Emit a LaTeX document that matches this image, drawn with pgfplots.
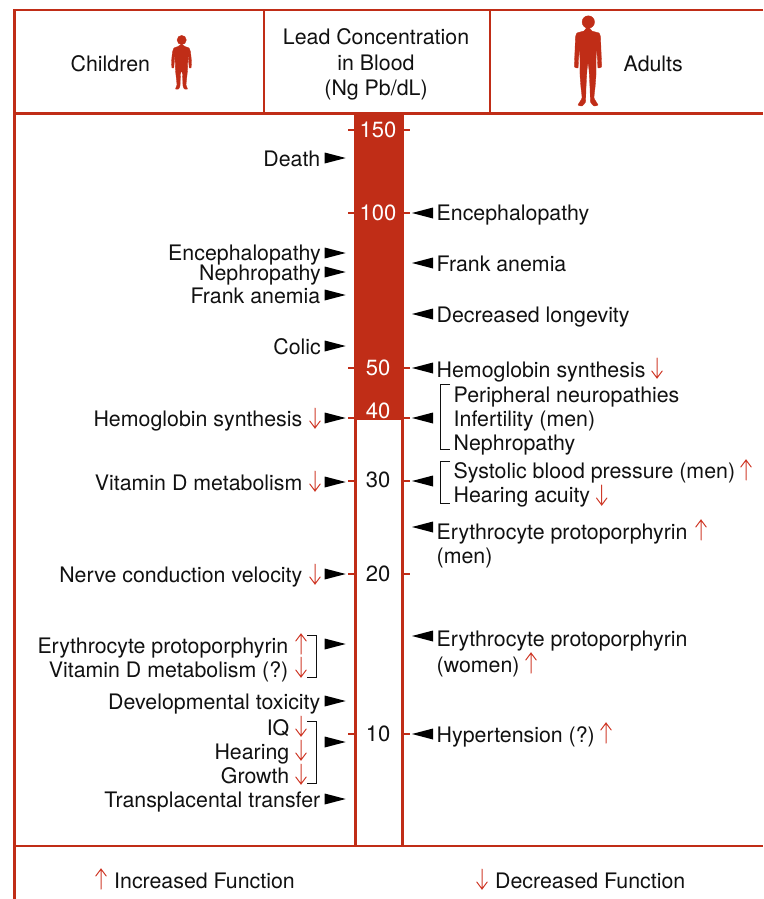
\documentclass[border=0pt]{standalone}
\usepackage{pgfplots}
\pgfplotsset{compat=1.18}
\usepackage{fontspec}
\setmainfont{TeX Gyre Heros}
\definecolor{leadred}{HTML}{C02D17}
\definecolor{arrowred}{HTML}{CF3B2A}
\definecolor{ink}{HTML}{111111}
\pgfdeclareplotmark{headR}{%
  \pgfpathmoveto{\pgfqpoint{-10.5pt}{-5.5pt}}\pgfpathlineto{\pgfqpoint{10.5pt}{0pt}}\pgfpathlineto{\pgfqpoint{-10.5pt}{5.5pt}}\pgfpathclose\pgfusepathqfill}
\pgfdeclareplotmark{headL}{%
  \pgfpathmoveto{\pgfqpoint{10.5pt}{-5.5pt}}\pgfpathlineto{\pgfqpoint{-10.5pt}{0pt}}\pgfpathlineto{\pgfqpoint{10.5pt}{5.5pt}}\pgfpathclose\pgfusepathqfill}
\pgfdeclareplotmark{thinUp}{%
  \pgfpathmoveto{\pgfqpoint{0pt}{-10pt}}\pgfpathlineto{\pgfqpoint{0pt}{10pt}}
  \pgfpathmoveto{\pgfqpoint{-5.2pt}{3pt}}\pgfpathlineto{\pgfqpoint{0pt}{10pt}}\pgfpathlineto{\pgfqpoint{5.2pt}{3pt}}\pgfusepathqstroke}
\pgfdeclareplotmark{thinDown}{%
  \pgfpathmoveto{\pgfqpoint{0pt}{10pt}}\pgfpathlineto{\pgfqpoint{0pt}{-10pt}}
  \pgfpathmoveto{\pgfqpoint{-5.2pt}{-3pt}}\pgfpathlineto{\pgfqpoint{0pt}{-10pt}}\pgfpathlineto{\pgfqpoint{5.2pt}{-3pt}}\pgfusepathqstroke}
\newcommand{\lab}[3]{\node[anchor=base west,inner sep=0pt,text=ink] at (axis cs:#1,#2) {#3};}
\newcommand{\rlab}[3]{\node[anchor=base east,inner sep=0pt,text=ink] at (axis cs:#1,#2) {#3};}
\newcommand{\clab}[3]{\node[anchor=base,inner sep=0pt,text=ink,font=\fontsize{22}{25}\selectfont] at (axis cs:#1,#2) {#3};}
\newcommand{\hlab}[3]{\node[anchor=base,inner sep=0pt,text=ink] at (axis cs:#1,#2) {#3};}
\newcommand{\wlab}[3]{\node[anchor=base,inner sep=0pt,text=white,font=\fontsize{22}{25}\selectfont] at (axis cs:#1,#2) {#3};}
\begin{document}
\begin{tikzpicture}
\begin{axis}[
  at={(0pt,0pt)},anchor=south west,
  width=763pt,height=899pt,scale only axis,
  xmin=0,xmax=763,ymin=0,ymax=899,y dir=reverse,hide axis,
  font=\fontsize{21.35}{25}\selectfont,
]
% lead bar and column
\addplot[fill=leadred,draw=none] coordinates {(354,114)(404,114)(404,420)(354,420)} -- cycle;
\addplot[leadred,line width=2.8pt] coordinates {(355.5,418)(355.5,846)};
\addplot[leadred,line width=2.8pt] coordinates {(402.8,418)(402.8,846)};
% frame
\addplot[leadred,line width=2.8pt] coordinates {(763,10)(14.3,10)(14.3,899)};
\addplot[leadred,line width=2.8pt] coordinates {(14,113.5)(763,113.5)};
\addplot[leadred,line width=2.8pt] coordinates {(14,846)(763,846)};
\addplot[leadred,line width=2.4pt] coordinates {(264,10)(264,113)};
\addplot[leadred,line width=2.4pt] coordinates {(490,10)(490,113)};
% ticks
\foreach \yy in {130,213,368,418,481,574,734}{
  \edef\temp{\noexpand\addplot[leadred,line width=1.2pt] coordinates {(348,\yy)(354,\yy)};
   \noexpand\addplot[leadred,line width=1.2pt] coordinates {(404,\yy)(410,\yy)};}
  \temp
}
% silhouettes
\addplot[fill=leadred,draw=leadred,line width=0.3pt,smooth,tension=0.25] coordinates {(181.5,44)(185,46.5)(189,48)(190.5,52)(191.5,62)(191,68)(189.3,68)(188.5,60)(188,55)(187.5,70)(186.5,80)(186,85)(187.5,89)(184.5,89)(183,86)(182.5,74)(181.5,71)(180.5,74)(180,86)(178.5,89)(175.5,89)(177,85)(176.5,80)(175.5,70)(175,55)(174.5,60)(173.7,68)(172,68)(171.5,62)(172.5,52)(174,48)(178,46.5)} -- cycle;
\addplot[only marks,mark=*,mark size=4.6pt,color=leadred] coordinates {(181.7,40)};
\addplot[fill=leadred,draw=leadred,line width=0.3pt,smooth,tension=0.25] coordinates {(588,26)(592,31)(599,33)(600.5,37)(601,50)(601.5,62)(601.5,67)(598,68)(597.5,60)(596.5,46)(596,62)(596,75)(595,88)(594,98)(598,105)(594,106)(590.5,102)(590,88)(589,70)(588,63)(587,70)(586,88)(585.5,102)(582,106)(578,105)(582,98)(581,88)(580,75)(580,62)(579.5,46)(578.5,60)(578,68)(574.5,67)(574.5,62)(575,50)(575.5,37)(577,33)(584,31)} -- cycle;
\addplot[only marks,mark=*,mark size=6.2pt,color=leadred] coordinates {(588.3,22)};
% brackets
\addplot[ink,line width=1pt] coordinates {(450,384.3)(440.5,384.3)(440.5,449.3)(450,449.3)};
\addplot[ink,line width=1pt] coordinates {(450,461.7)(440.5,461.7)(440.5,503)(450,503)};
\addplot[ink,line width=1pt] coordinates {(307,635)(316.5,635)(316.5,677)(307,677)};
\addplot[ink,line width=1pt] coordinates {(307,721)(316.5,721)(316.5,783)(307,783)};
% pointer arrowheads
\addplot[only marks,mark=headR,color=black] coordinates {(335.2,158)(335.2,253)(335.2,272)(335.2,295)(335.2,346)(335.2,418)(335.2,482)(335.2,574)(335.2,644)(335.2,701)(335.2,742)(335.2,799)};
\addplot[only marks,mark=headL,color=black] coordinates {(422.5,213)(422.5,263)(422.5,314)(422.5,368)(422.5,418)(422.5,481)(422.5,527)(422.5,636)(422.5,734)};
% thin function arrows
\addplot[only marks,mark=thinDown,color=arrowred,mark options={line width=1pt,line cap=round}] coordinates {(315,418)(315,481)(315,574)(301,667)(301,726)(301,750)(301,774)(657,368)(601.7,495)(482,879)};
\addplot[only marks,mark=thinUp,color=arrowred,mark options={line width=1pt,line cap=round}] coordinates {(301,644)(746,470)(701,530)(531,663)(606,733)(101,879)};
% header
\lab{70.5}{71}{Children}
\hlab{376}{44.5}{Lead Concentration}
\hlab{376}{70.5}{in Blood}
\hlab{376}{95}{(Ng Pb/dL)}
\lab{623.5}{71}{Adults}
% scale numbers
\wlab{378}{137.5}{150}\wlab{378}{220.5}{100}\wlab{378}{375.5}{50}\wlab{378}{418}{40}
\clab{378}{487.5}{30}\clab{378}{581.5}{20}\clab{378}{741.5}{10}
% children
\rlab{320.5}{166}{Death}
\rlab{321}{260}{Encephalopathy}
\rlab{321}{280}{Nephropathy}
\rlab{320.5}{303}{Frank anemia}
\rlab{321}{354}{Colic}
\rlab{302.5}{426}{Hemoglobin synthesis}
\rlab{302.5}{490.5}{Vitamin D metabolism}
\rlab{302.5}{582}{Nerve conduction velocity}
\rlab{288.5}{653}{Erythrocyte protoporphyrin}
\rlab{288.5}{677}{Vitamin D metabolism (?)}
\rlab{320.5}{709}{Developmental toxicity}
\rlab{289.5}{735}{IQ}
\rlab{289.5}{759}{Hearing}
\rlab{289.5}{783}{Growth}
\rlab{320.5}{807}{Transplacental transfer}
% adults
\lab{436.5}{220.5}{Encephalopathy}
\lab{436.5}{271}{Frank anemia}
\lab{436.5}{322}{Decreased longevity}
\lab{436.5}{377}{Hemoglobin synthesis}
\lab{453.5}{402}{Peripheral neuropathies}
\lab{453.5}{426}{Infertility (men)}
\lab{453.5}{450}{Nephropathy}
\lab{453.5}{478}{Systolic blood pressure (men)}
\lab{453.5}{502}{Hearing acuity}
\lab{436.5}{539}{Erythrocyte protoporphyrin}
\lab{436.5}{563}{(men)}
\lab{436.5}{646}{Erythrocyte protoporphyrin}
\lab{436.5}{672}{(women)}
\lab{436.5}{742}{Hypertension (?)}
% key
\lab{114}{888}{Increased Function}
\lab{495}{888}{Decreased Function}
\end{axis}
\path (0,0) rectangle (763pt,899pt);
\end{tikzpicture}
\end{document}
